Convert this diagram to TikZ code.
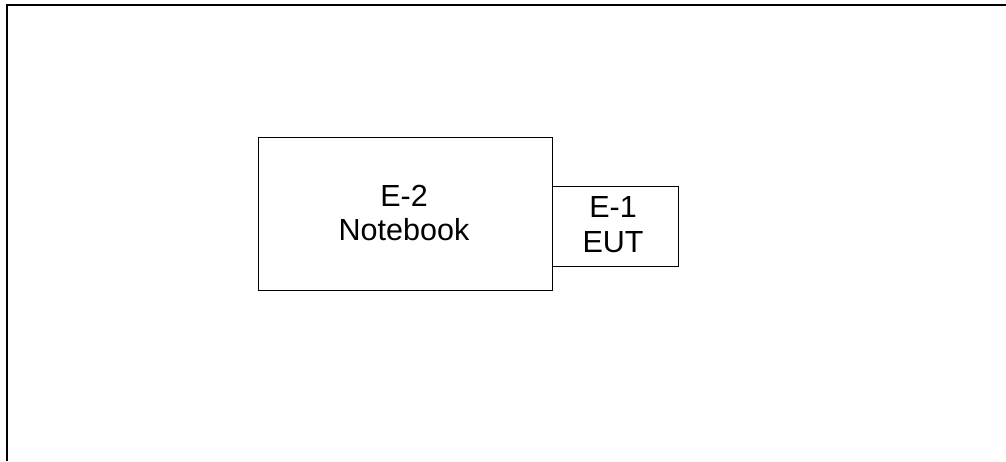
\documentclass[tikz,border=0pt]{standalone}
\usepackage{fontspec}
\setmainfont{Liberation Sans}
\begin{document}
\begin{tikzpicture}[x=1pt,y=-1pt,
  box/.style={draw=black,line width=1.5pt,inner sep=0pt,outer sep=0pt},
  lbl/.style={align=center,inner sep=0pt}]
\useasboundingbox (0,0) rectangle (1006,461);
\coordinate (fl) at (7,461);
\coordinate (ft) at (7,5);
\coordinate (fr) at (1006,5);
\draw[line width=2.2pt] (fl) -- (ft) -- (fr);
\node[box,minimum width=294pt,minimum height=153pt,anchor=north west] (nb) at (258.5,137.5) {};
\node[box,minimum width=126pt,minimum height=80pt,anchor=north west] (eut) at (552.5,186.5) {};
\node[lbl,font=\fontsize{30.5}{34.3}\selectfont] (nbt) at (404,213) {E-2\\Notebook};
\node[lbl,font=\fontsize{30.5}{35.6}\selectfont] (eutt) at (613,224.7) {E-1\\EUT};
\end{tikzpicture}
\end{document}
